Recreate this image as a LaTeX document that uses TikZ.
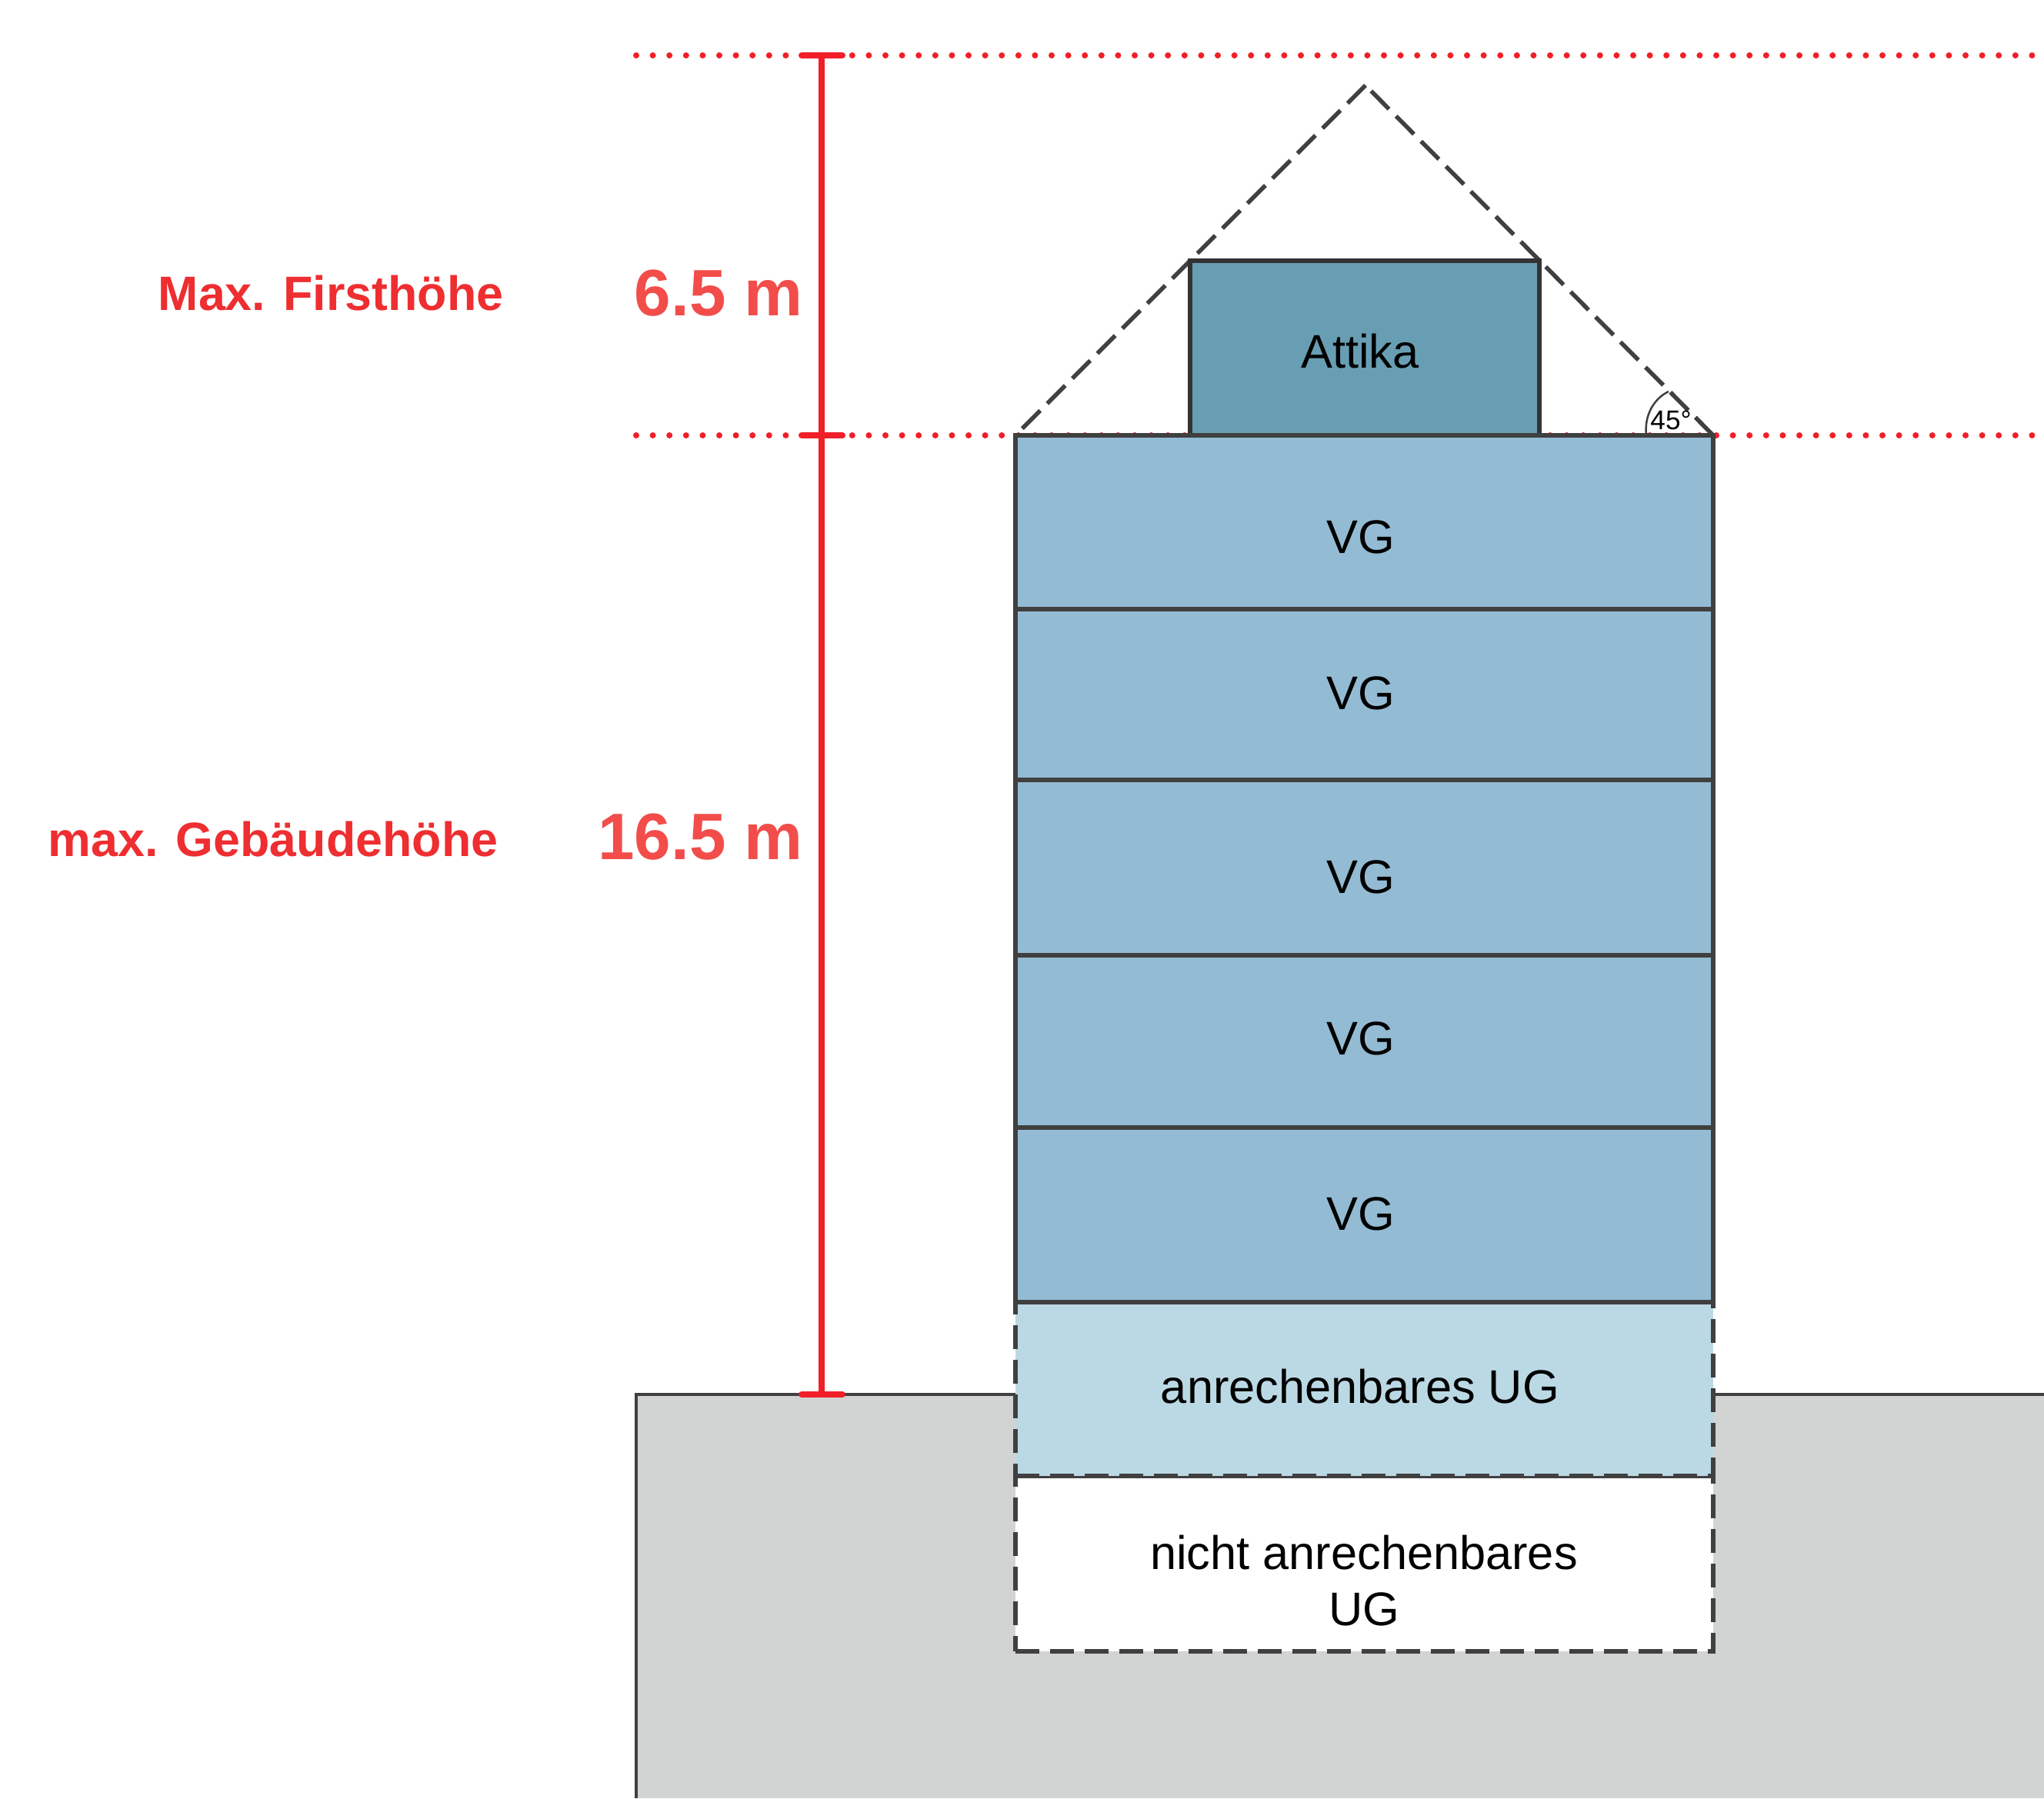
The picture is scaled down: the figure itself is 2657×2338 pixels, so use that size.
\documentclass[tikz,border=0pt]{standalone}
\usepackage{fontspec}
\setmainfont{Liberation Sans}
\definecolor{vgblue}{HTML}{94BBD4}
\definecolor{attikablue}{HTML}{689EB3}
\definecolor{ugblue}{HTML}{BBD9E4}
\definecolor{groundgray}{HTML}{D2D4D3}
\definecolor{linegray}{HTML}{404040}
\definecolor{dimred}{HTML}{F11F28}
\definecolor{labelred}{HTML}{EE2E30}
\definecolor{valuered}{HTML}{F24D4A}
\tikzset{
  box/.style={rectangle,draw=linegray,line width=0.55mm,inner sep=0,outer sep=0,minimum width=90.7mm},
  vgbox/.style={box,fill=vgblue},
  ugdash/.style={dash pattern=on 3.1mm off 1.4mm},
  txt/.style={inner sep=0,font=\fontsize{17.45}{20.7}\selectfont,align=center},
  lbl/.style={inner sep=0,anchor=east,text=labelred,font=\fontsize{17.85}{20}\selectfont\bfseries},
  val/.style={inner sep=0,anchor=east,text=valuered,font=\fontsize{24.3}{28}\selectfont\bfseries},
  dotline/.style={dimred,line width=0.8mm,line cap=round,dash pattern=on 0pt off 2.16mm},
  dimline/.style={dimred,line width=0.8mm},
  dimcap/.style={dimred,line width=0.8mm,line cap=round},
  roof/.style={linegray,line width=0.55mm,dash pattern=on 3.3mm off 1.3mm}
}
\begin{document}
\begin{tikzpicture}[x=0.1mm,y=-0.1mm]
  \useasboundingbox (0,0) rectangle (2657,2338);
  \coordinate (dottop) at (827,72);
  \coordinate (dottopend) at (2657,72);
  \coordinate (dotmid) at (827,566);
  \coordinate (dotmidend) at (2657,566);
  \coordinate (dimtop) at (1068,72);
  \coordinate (dimmid) at (1068,566);
  \coordinate (dimbot) at (1068,1813);
  \coordinate (apex) at (1775,111);
  \coordinate (eaveleft) at (1320,566);
  \coordinate (eaveright) at (2227,566);
  \draw[dotline] (dottop) -- (dottopend);
  \draw[dotline] (dotmid) -- (dotmidend);
  \fill[groundgray] (827,1813) rectangle (2657,2338);
  \draw[linegray,line width=0.35mm] (827,2338) -- (827,1813) -- (2657,1813);
  \draw[roof] (apex) -- (eaveleft);
  \draw[roof] (eaveright) -- (apex);
  \draw[linegray,line width=0.25mm] (2140,566) .. controls (2137,540) and (2150,518) .. (2169,509);
  \node[txt,font=\fontsize{10}{12}\selectfont] (angle) at (2172,546) {45°};
  \node[box,fill=attikablue,draw=black!80,minimum width=45.4mm,minimum height=22.7mm] (attika) at (1774,452.5) {};
  \node[box,fill=white,ugdash,minimum height=22.8mm] (nichtug) at (1773.5,2033) {};
  \node[box,fill=ugblue,ugdash,minimum height=22.6mm] (ug) at (1773.5,1806) {};
  \node[vgbox,minimum height=22.6mm] (vg) at (1773.5,679) {};
  \node[vgbox,minimum height=22.2mm] (vg2) at (1773.5,903) {};
  \node[vgbox,minimum height=22.8mm] (vg3) at (1773.5,1128) {};
  \node[vgbox,minimum height=22.4mm] (vg4) at (1773.5,1354) {};
  \node[vgbox,minimum height=22.7mm] (vg5) at (1773.5,1579.5) {};
  \node[txt] (attikatext) at (1768,457) {Attika};
  \node[txt] (vgtext) at (1769,698) {VG};
  \node[txt] (vg2text) at (1769,901) {VG};
  \node[txt] (vg3text) at (1769,1140) {VG};
  \node[txt] (vg4text) at (1769,1350) {VG};
  \node[txt] (vg5text) at (1769,1578) {VG};
  \node[txt] (ugtext) at (1768,1803) {anrechenbares UG};
  \node[txt] (nichtugtext) at (1773,2055) {nicht anrechenbares\\UG};
  \draw[dimline] (dimtop) -- (dimmid);
  \draw[dimline] (dimmid) -- (dimbot);
  \draw[dimcap] (1042,72) -- (1095,72);
  \draw[dimcap] (1042,566) -- (1095,566);
  \draw[dimcap] (1042,1813) -- (1095,1813);
  \node[lbl] (firstlabel) at (655,381) {Max. Firsthöhe};
  \node[lbl] (hoehelabel) at (648,1091) {max. Gebäudehöhe};
  \node[val] (firstvalue) at (1044,381) {6.5 m};
  \node[val] (hoehevalue) at (1044,1088) {16.5 m};
\end{tikzpicture}
\end{document}
